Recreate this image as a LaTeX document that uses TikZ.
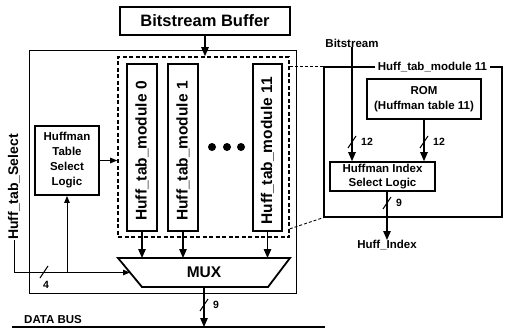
\documentclass[tikz,border=0pt]{standalone}
\usepackage{fontspec}
\setmainfont{Liberation Sans}
\usetikzlibrary{arrows.meta,calc}
\begin{document}
\begin{tikzpicture}[x=1pt,y=-1pt,
 every node/.style={font=\bfseries, inner sep=0pt},
 box/.style={draw, line width=1.8pt, align=center},
 arr/.style={line width=1.2pt, -{Triangle[length=9pt,width=7.5pt]}},
 sarr/.style={line width=0.9pt, -{Triangle[length=7pt,width=5.5pt]}},
 wire/.style={line width=1.1pt},
 slashst/.style={line width=1.1pt},
 small/.style={font=\bfseries\fontsize{10.5}{12}\selectfont},
 lbl/.style={font=\bfseries\fontsize{11.5}{15}\selectfont},
 big/.style={font=\bfseries\fontsize{15.5}{18}\selectfont},
 callout/.style={line width=0.9pt, dash pattern=on 3pt off 2pt},
 ]
\useasboundingbox (0,0) rectangle (506,329);

% outer box
\node[draw, line width=0.8pt, minimum width=267, minimum height=243] (outer) at (162.5,171.5) {};

% bitstream buffer
\node[box, minimum width=170, minimum height=28, font=\bfseries\fontsize{16.5}{19}\selectfont] (bb) at (205,21) {Bitstream Buffer};

% dashed box
\node[draw, line width=1.6pt, dash pattern=on 4pt off 2.5pt, minimum width=171, minimum height=180] (dbox) at (203.5,147) {};

% modules
\node[box, minimum width=30, minimum height=167] (m0) at (142,147.5) {};
\node[box, minimum width=30, minimum height=167] (m1) at (183,147.5) {};
\node[box, minimum width=29, minimum height=167] (m11) at (267.5,147.5) {};
\node[big, rotate=90] (m0t) at (142,151) {Huff\_tab\_module 0};
\node[big, rotate=90] (m1t) at (183,151) {Huff\_tab\_module 1};
\node[big, rotate=90] (m11t) at (267.5,151) {Huff\_tab\_module 11};

% dots
\node[circle, fill, minimum size=8] (d1) at (212,147) {};
\node[circle, fill, minimum size=8] (d2) at (227,147) {};
\node[circle, fill, minimum size=8] (d3) at (241,147) {};

% Huffman table select logic
\node[box, lbl, minimum width=64, minimum height=69] (htsl) at (67,160.5) {Huffman\\Table\\Select\\Logic};

% MUX
\draw[line width=1.8pt] (118,258) coordinate (mtl) -- (290,258) coordinate (mtr)
  -- (268,287) coordinate (mbr) -- (142,287) coordinate (mbl) -- cycle;
\node[big] (mux) at (204,272.5) {MUX};
\coordinate (min) at ($(mtl)!0.5!(mbl)$);

% data bus
\coordinate (db1) at (12,327);
\coordinate (db2) at (325,327);
\draw[line width=2.4pt] (db1) -- (db2);
\node[lbl, anchor=south west] (dbl) at (24,324) {DATA BUS};

% arrows
\draw[arr] (bb.south) -- (bb.south |- dbox.north);
\draw[arr] (m0.south) -- (m0.south |- mtl);
\draw[arr] (m1.south) -- (m1.south |- mtl);
\draw[arr] (m11.south) -- (m11.south |- mtl);
\draw[arr] (mux.center |- mbl) -- (mux.center |- db1);
\coordinate (s9) at (204,305);
\draw[slashst] ([shift={(-4,6)}]s9) -- ([shift={(4,-6)}]s9);
\node[small, anchor=west] (n9) at (213,305) {9};

% huff_tab_select
\node[font=\bfseries\fontsize{14}{16}\selectfont, rotate=90] (hts) at (14,187) {Huff\_tab\_Select};
\draw[sarr] (hts.west) -- (hts.west |- min) -- (min);
\coordinate (br) at (htsl.south |- min);
\draw[sarr] (br) -- (htsl.south);
\coordinate (s4) at (44,272);
\draw[slashst] ([shift={(-4,6)}]s4) -- ([shift={(4,-6)}]s4);
\node[small] (n4) at (46,285) {4};
\draw[sarr] (htsl.east) -- (htsl.east -| dbox.west);

% right box
\node[draw, line width=1.2pt, minimum width=178, minimum height=150] (rb) at (413,142) {};
\node[lbl, fill=white, inner xsep=3pt, inner ysep=1pt] (rbl) at (432.5,67) {Huff\_tab\_module 11};
\draw[callout] (dbox.east |- rb.north) -- (rb.north west);
\draw[callout] ($(dbox.south east)+(0,-9)$) -- (rb.south west);

\node[lbl] (bs) at (352,43) {Bitstream};
\node[box, lbl, minimum width=114, minimum height=40, line width=1.6pt] (rom) at (424,99) {ROM\\(Huffman table 11)};
\node[box, lbl, minimum width=105, minimum height=29, line width=1.6pt, font=\bfseries\fontsize{11.5}{14}\selectfont] (hisl) at (382.5,176.5) {Huffman Index\\Select Logic};

\draw[arr] (bs.south) -- (bs.south |- hisl.north);
\draw[arr] (rom.south) -- (rom.south |- hisl.north);
\coordinate (s12a) at (352,142);
\coordinate (s12b) at (424,142);
\draw[slashst] ([shift={(-4,6)}]s12a) -- ([shift={(4,-6)}]s12a);
\draw[slashst] ([shift={(-4,6)}]s12b) -- ([shift={(4,-6)}]s12b);
\node[small, anchor=west] (n12a) at (361,142) {12};
\node[small, anchor=west] (n12b) at (433,142) {12};

\coordinate (hout) at ([xshift=4.5pt]hisl.south);
\node[lbl, anchor=north] (hidx) at (387,240) {Huff\_Index};
\draw[arr] (hout) -- (hout |- hidx.north);
\coordinate (s9b) at (387,203);
\draw[slashst] ([shift={(-4,6)}]s9b) -- ([shift={(4,-6)}]s9b);
\node[small, anchor=west] (n9b) at (396,203) {9};
\end{tikzpicture}
\end{document}
